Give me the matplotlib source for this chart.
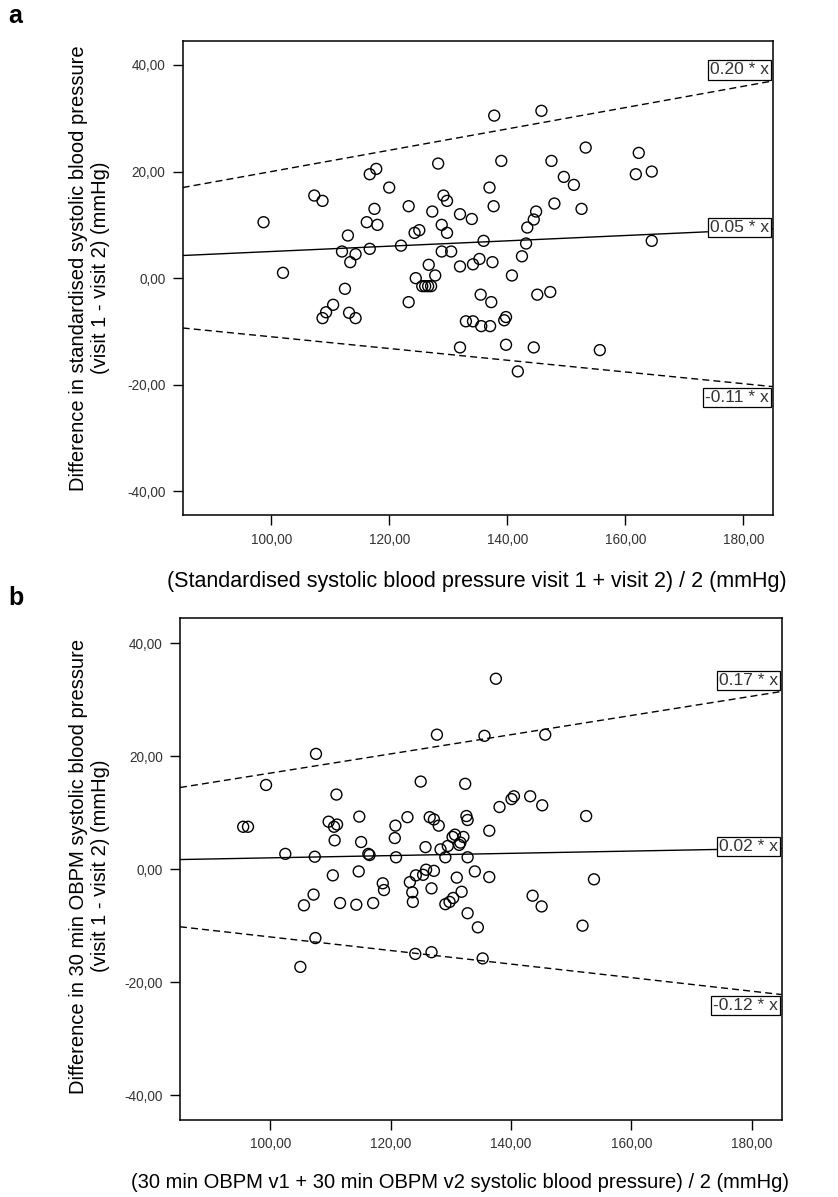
import matplotlib
matplotlib.use("Agg")
import matplotlib.pyplot as plt

plt.rcParams['font.family'] = ['Liberation Sans', 'DejaVu Sans']

# ---------------- data: panel a ----------------
a_x = [98.7, 102.0, 107.3, 108.7, 112.5, 113.0, 112.0, 113.4, 114.3, 116.2,
       118.0, 117.5, 116.7, 117.8, 116.7, 120.0, 122.0, 123.3, 124.3, 125.1,
       126.7, 124.5, 125.6, 126.1, 126.6, 127.1, 127.8, 127.3, 128.3, 129.2,
       129.8, 128.9, 129.8, 128.9, 130.5, 132.0, 132.0, 134.0, 134.2, 135.3,
       137.5, 140.8, 137.8, 145.8, 153.3, 162.3, 161.8, 164.5, 139.0, 147.5,
       149.6, 151.3, 137.0, 137.7, 148.0, 152.6, 144.9, 144.5, 143.4, 143.2,
       136.0, 164.5, 142.5, 135.5, 137.3, 145.1, 147.3, 133.0, 134.2, 135.6,
       137.1, 139.5, 139.8, 139.8, 144.5, 155.7, 141.8, 110.5, 109.3, 108.7,
       113.2, 114.3, 123.3, 132.0]
a_y = [10.5, 1.0, 15.5, 14.5, -2.0, 8.0, 5.0, 3.0, 4.5, 10.5,
       10.0, 13.0, 19.5, 20.5, 5.5, 17.0, 6.1, 13.5, 8.5, 9.0,
       2.5, 0.0, -1.5, -1.5, -1.5, -1.5, 0.5, 12.5, 21.5, 15.5,
       14.5, 10.0, 8.5, 5.0, 5.0, 12.0, 2.2, 11.1, 2.6, 3.6,
       3.0, 0.5, 30.5, 31.4, 24.5, 23.5, 19.5, 20.0, 22.0, 22.0,
       19.0, 17.5, 17.0, 13.5, 14.0, 13.0, 12.5, 11.0, 9.5, 6.5,
       7.0, 7.0, 4.1, -3.1, -4.5, -3.1, -2.6, -8.1, -8.1, -9.0,
       -9.0, -7.9, -7.3, -12.5, -13.0, -13.5, -17.5, -5.0, -6.4, -7.5,
       -6.5, -7.5, -4.5, -13.0]

# ---------------- data: panel b ----------------
b_x = [95.5, 96.3, 99.3, 102.5, 107.6, 107.4, 111.0, 109.7, 110.6, 111.1,
       110.7, 114.8, 115.1, 116.3, 116.5, 120.8, 120.7, 120.9, 122.8, 125.0,
       127.7, 125.8, 126.5, 127.2, 128.0, 128.3, 129.1, 129.5, 130.3, 130.7,
       131.4, 131.6, 132.1, 132.4, 132.6, 132.8, 132.8, 137.5, 135.6, 145.7,
       138.1, 140.1, 140.5, 143.2, 145.2, 152.5, 136.4, 134.0, 110.4, 114.7,
       105.6, 107.2, 111.6, 114.3, 117.1, 118.7, 118.9, 123.2, 123.6, 123.7,
       124.2, 125.4, 125.9, 127.2, 126.8, 131.0, 131.8, 130.4, 129.8, 129.1,
       132.8, 107.5, 105.0, 124.1, 126.8, 136.4, 134.5, 135.3, 143.6, 145.1,
       153.8, 151.9]
b_y = [7.5, 7.5, 14.9, 2.7, 20.4, 2.2, 13.2, 8.4, 7.5, 7.9,
       5.1, 9.3, 4.8, 2.7, 2.5, 7.7, 5.5, 2.1, 9.2, 15.5,
       23.8, 3.9, 9.2, 8.8, 7.7, 3.5, 2.1, 4.1, 5.7, 6.1,
       4.3, 4.7, 5.7, 15.1, 9.4, 8.7, 2.1, 33.7, 23.6, 23.8,
       11.0, 12.4, 12.9, 12.9, 11.3, 9.4, 6.8, -0.4, -1.1, -0.4,
       -6.4, -4.5, -6.0, -6.3, -6.0, -2.5, -3.7, -2.3, -4.1, -5.8,
       -1.1, -1.0, -0.1, -0.3, -3.4, -1.5, -4.0, -5.1, -5.8, -6.2,
       -7.8, -12.2, -17.3, -15.0, -14.7, -1.4, -10.3, -15.8, -4.7, -6.6,
       -1.8, -10.0]

# fitted lines (slope through origin) and their labels
a_slopes = [0.20, 0.05, -0.11]
a_labels = ["0.20 * x", "0.05 * x", "-0.11 * x"]
b_slopes = [0.17, 0.02, -0.12]
b_labels = ["0.17 * x", "0.02 * x", "-0.12 * x"]
line_styles = ["dashed", "solid", "dashed"]
label_pos = ["above", "center", "below"]

xticks = [100, 120, 140, 160, 180]
yticks = [-40, -20, 0, 20, 40]
xlim = (85, 185)

a_xlabel = "(Standardised systolic blood pressure visit 1 + visit 2) / 2 (mmHg)"
a_ylabel = "Difference in standardised systolic blood pressure\n(visit 1 - visit 2) (mmHg)"
b_xlabel = "(30 min OBPM v1 + 30 min OBPM v2 systolic blood pressure) / 2 (mmHg)"
b_ylabel = "Difference in 30 min OBPM systolic blood pressure\n(visit 1 - visit 2) (mmHg)"

W, H = 838, 1197
fig = plt.figure(figsize=(W / 100, H / 100), dpi=100)


def fmt(v):
    return f"{v:.2f}".replace(".", ",")


def panel(rect, xs, ys, slopes, labels, ylim):
    l, t, r, b = rect
    ax = fig.add_axes([l / W, 1 - b / H, (r - l) / W, (b - t) / H])
    ax.scatter(xs, ys, s=62, facecolors="none", edgecolors="black",
               linewidths=1.0, zorder=3)
    for k, lab, ls, pos in zip(slopes, labels, line_styles, label_pos):
        xx = [xlim[0], xlim[1]]
        yy = [k * xlim[0], k * xlim[1]]
        if ls == "dashed":
            ax.plot(xx, yy, color="black", lw=1.0, dashes=(5, 3), zorder=2)
        else:
            ax.plot(xx, yy, color="black", lw=1.0, zorder=2)
        off = {"above": (-2.5, 2.5), "center": (-2.5, 1.0), "below": (-2.5, -2.5)}[pos]
        va = {"above": "bottom", "center": "center", "below": "top"}[pos]
        ax.annotate(lab, xy=(xlim[1], k * xlim[1]), xytext=off,
                    textcoords="offset points", ha="right", va=va,
                    fontsize=12.5, color="#333333", zorder=5,
                    bbox=dict(boxstyle="square,pad=0.12", fc="white",
                              ec="black", lw=0.9))
    ax.set_xlim(*xlim)
    ax.set_ylim(*ylim)
    ax.set_xticks(xticks)
    ax.set_xticklabels([fmt(v) for v in xticks])
    ax.set_yticks(yticks)
    ax.set_yticklabels([fmt(v) for v in yticks])
    ax.tick_params(direction="out", length=7.5, width=1.0, labelsize=9.8,
                   labelcolor="#333333", pad=5)
    for sp in ax.spines.values():
        sp.set_linewidth(1.1)
    return ax


ax_a = panel((182.7, 41, 772.7, 515.3), a_x, a_y, a_slopes, a_labels, (-44.5, 44.5))
ax_b = panel((180, 618.3, 781.7, 1120), b_x, b_y, b_slopes, b_labels, (-44.4, 44.4))

# axis titles
fig.text(477 / W, 1 - 582 / H, a_xlabel, ha="center", va="center", fontsize=15.5)
fig.text(460 / W, 1 - 1182 / H, b_xlabel, ha="center", va="center", fontsize=14.5)
fig.text(90 / W, 1 - 268 / H, a_ylabel, ha="center", va="center", rotation=90,
         fontsize=14.5, multialignment="center", linespacing=1.2)
fig.text(90 / W, 1 - 866 / H, b_ylabel, ha="center", va="center", rotation=90,
         fontsize=14.5, multialignment="center", linespacing=1.2)

# panel letters
fig.text(8 / W, 1 - 23 / H, "a", ha="left", va="baseline", fontsize=18, fontweight="bold")
fig.text(8 / W, 1 - 605 / H, "b", ha="left", va="baseline", fontsize=18, fontweight="bold")

fig.savefig("out.png", dpi=100)
